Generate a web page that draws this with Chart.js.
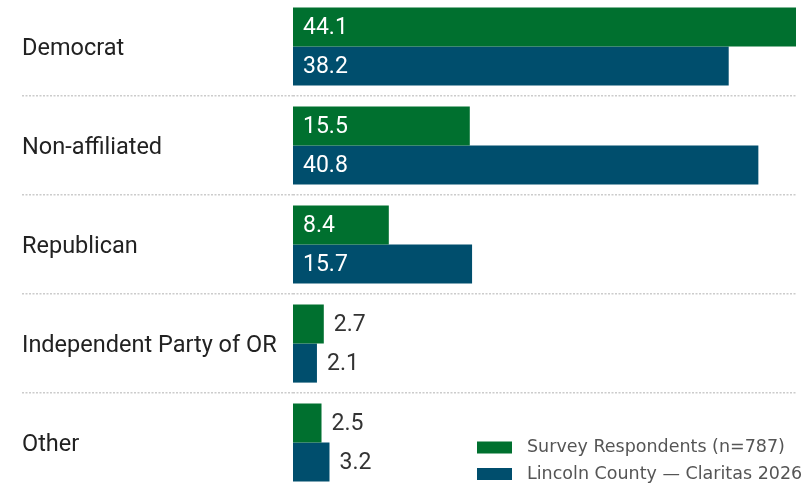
<!DOCTYPE html>
<html>
<head>
<meta charset="utf-8">
<script src="https://cdn.jsdelivr.net/npm/chart.js@4"></script>
<style>
  html, body { margin: 0; padding: 0; background: #fff; overflow: hidden; }
  #wrap { position: relative; width: 807px; height: 495px; margin-top: -3px; }
</style>
</head>
<body>
<div id="wrap"><canvas id="partyChart"></canvas></div>
<script>
// party registration, percent
const parties = ["Democrat", "Non-affiliated", "Republican", "Independent Party of OR", "Other"];
const surveyShare = [44.1, 15.5, 8.4, 2.7, 2.5];
const countyShare = [38.2, 40.8, 15.7, 2.1, 3.2];
const seriesNames = ["Survey Respondents (n=787)", "Lincoln County \u2014 Claritas 2026"];
const seriesColors = ["#00702f", "#004e6d"];

// value labels: white inside the bar, dark just past the end when the bar is short
const valueLabels = {
    id: "valueLabels",
    afterDatasetsDraw(chart) {
        const ctx = chart.ctx;
        ctx.save();
        ctx.font = "23px Roboto";
        ctx.textBaseline = "middle";
        ctx.textAlign = "left";
        chart.data.datasets.forEach((ds, i) => {
            chart.getDatasetMeta(i).data.forEach((bar, j) => {
                const txt = ds.data[j].toFixed(1);
                const w = ctx.measureText(txt).width;
                const barW = bar.x - bar.base;
                if (barW > w + 24) {
                    ctx.fillStyle = "#ffffff";
                    ctx.fillText(txt, bar.base + 10, bar.y + 1);
                } else {
                    ctx.fillStyle = "#333333";
                    ctx.fillText(txt, bar.x + 10, bar.y + 1);
                }
            });
        });
        ctx.restore();
    }
};

// legend sits inside the plot, bottom right
const cornerLegend = {
    id: "cornerLegend",
    afterDraw(chart) {
        const ctx = chart.ctx;
        ctx.save();
        ctx.font = "17.5px 'DejaVu Sans'";
        ctx.textBaseline = "middle";
        chart.data.datasets.forEach((ds, i) => {
            const y = 450.5 + i * 26.5;
            ctx.fillStyle = ds.backgroundColor;
            ctx.fillRect(477, y - 6, 35, 12);
            ctx.fillStyle = "#555555";
            ctx.fillText(ds.label, 527, y);
        });
        ctx.restore();
    }
};

new Chart("partyChart", {
    type: "bar",
    data: {
        labels: parties,
        datasets: [
            { label: seriesNames[0], data: surveyShare, backgroundColor: seriesColors[0] },
            { label: seriesNames[1], data: countyShare, backgroundColor: seriesColors[1] }
        ]
    },
    options: {
        indexAxis: "y",
        responsive: true,
        maintainAspectRatio: false,
        animation: false,
        events: [],
        categoryPercentage: 0.79,
        barPercentage: 1.0,
        layout: { padding: { left: 22, right: 11, top: 0, bottom: 0 } },
        plugins: {
            legend: { display: false },
            tooltip: { enabled: false }
        },
        scales: {
            x: { display: false, min: 0, max: 44.1 },
            y: {
                border: { display: false, dash: [2, 1.5] },
                grid: {
                    offset: true,
                    color: "#cccccc",
                    lineWidth: 1.5,
                    tickLength: 271,
                    tickColor: "#cccccc",
                    tickWidth: 1.5,
                    tickBorderDash: [2, 1.5]
                },
                ticks: {
                    crossAlign: "far",
                    padding: 0,
                    labelOffset: 3,
                    color: "#222222",
                    font: { family: "Roboto", size: 23.5 }
                },
                afterFit(scale) {
                    scale.width = 271;
                    scale.paddingTop = 0;
                    scale.paddingBottom = 0;
                }
            }
        }
    },
    plugins: [valueLabels, cornerLegend]
});
</script>
</body>
</html>
